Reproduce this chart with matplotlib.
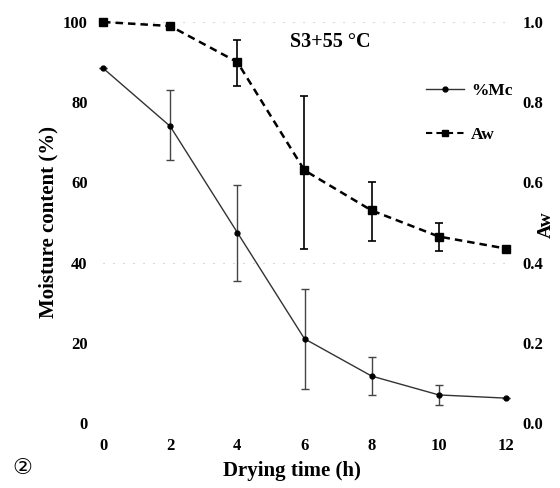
import matplotlib
matplotlib.use("Agg")
import matplotlib.pyplot as plt
from matplotlib.lines import Line2D

# Data
time_h = [0, 2, 4, 6, 8, 10, 12]
mc = [88.5, 74, 47.5, 21, 11.7, 7, 6.2]
mc_err_low = [0, 8.5, 12, 12.5, 4.7, 2.5, 0]
mc_err_high = [0, 9, 11.8, 12.4, 4.8, 2.5, 0]
aw = [1.0, 0.99, 0.90, 0.63, 0.53, 0.465, 0.435]
aw_err_low = [0, 0, 0.06, 0.195, 0.075, 0.035, 0]
aw_err_high = [0, 0, 0.055, 0.185, 0.07, 0.035, 0]
x_ticks = [0, 2, 4, 6, 8, 10, 12]
y_ticks = [0, 20, 40, 60, 80, 100]
y2_ticks = [0.0, 0.2, 0.4, 0.6, 0.8, 1.0]

serif = ["Liberation Serif", "DejaVu Serif"]
W, H = 560, 488
fig = plt.figure(figsize=(W / 100, H / 100), dpi=100)
left, right = 103 / W, 506 / W
bottom, top = (H - 423) / H, (H - 22) / H
ax = fig.add_axes([left, bottom, right - left, top - bottom])
ax2 = ax.twinx()

for a in (ax, ax2):
    for s in a.spines.values():
        s.set_visible(False)
    a.tick_params(length=0)

ax.set_xlim(0, 12)
ax.set_ylim(0, 100)
ax2.set_ylim(0, 1.0)

# faint dotted reference lines
for yv in (100, 40):
    ax.axhline(yv, color="#bbbbbb", lw=0.8, ls=(0, (1, 8)), zorder=0)

# Mc series
ax.errorbar(time_h, mc, yerr=[mc_err_low, mc_err_high], fmt="none",
            ecolor="#444444", elinewidth=1.0, capsize=3, capthick=1.0,
            clip_on=False, zorder=2)
ax.plot(time_h, mc, color="#333333", lw=1.0, marker="o", ms=3.5,
        mfc="black", mec="black", clip_on=False, zorder=3)

# Aw series
ax2.errorbar(time_h, aw, yerr=[aw_err_low, aw_err_high], fmt="none",
             ecolor="black", elinewidth=1.2, capsize=3, capthick=1.2,
             clip_on=False, zorder=2)
ax2.plot(time_h, aw, color="black", lw=1.8, ls=(0, (3, 2)), marker="s",
         ms=6, mfc="black", mec="black", clip_on=False, zorder=3)

# ticks
tick_font = dict(fontfamily=serif, fontweight="bold", fontsize=12)
ax.set_xticks(x_ticks)
ax.set_xticklabels([str(v) for v in x_ticks], **tick_font)
ax.set_yticks(y_ticks)
ax.set_yticklabels([str(v) for v in y_ticks], **tick_font)
ax2.set_yticks(y2_ticks)
ax2.set_yticklabels([f"{v:.1f}" for v in y2_ticks], **tick_font)
ax.tick_params(axis="x", pad=11)
ax.tick_params(axis="y", pad=11)
ax2.tick_params(axis="y", pad=12)

ax.set_xlabel("Drying time (h)", fontfamily=serif, fontweight="bold",
              fontsize=15)
ax.xaxis.set_label_coords((292 / W - left) / (right - left),
                          ((H - 471) / H - bottom) / (top - bottom))
ax.xaxis.label.set_va("center")
ax.set_ylabel("Moisture content (%)", fontfamily=serif, fontweight="bold",
              fontsize=15)
ax.yaxis.set_label_coords((48 / W - left) / (right - left),
                          ((H - 222) / H - bottom) / (top - bottom))
ax.yaxis.label.set_va("center")
ax2.set_ylabel("Aw", fontfamily=serif, fontweight="bold", fontsize=14,
               rotation=90)
ax2.yaxis.set_label_coords((546 / W - left) / (right - left),
                           ((H - 225) / H - bottom) / (top - bottom))
ax2.yaxis.label.set_va("center")

fig.text(330 / W, 1 - 42 / H, "S3+55 °C", fontfamily=serif,
         fontweight="bold", fontsize=14.5, ha="center", va="center")

handles = [
    Line2D([], [], color="#333333", lw=1.0, marker="o", ms=3.5,
           mfc="black", mec="black"),
    Line2D([], [], color="black", lw=1.5, ls=(0, (3, 2)), marker="s",
           ms=5, mfc="black"),
]
leg = fig.legend(handles, ["%Mc", "Aw"], loc="upper left",
                 bbox_to_anchor=(410 / W, 1 - 67 / H), frameon=False,
                 handlelength=2.2, labelspacing=1.6, handletextpad=0.4,
                 prop={"family": serif, "weight": "bold", "size": 12.5})

fig.text(22 / W, 1 - 468 / H, "②", fontfamily=["DejaVu Sans"],
         fontsize=16, ha="center", va="center")

fig.savefig("out.png", dpi=100)
